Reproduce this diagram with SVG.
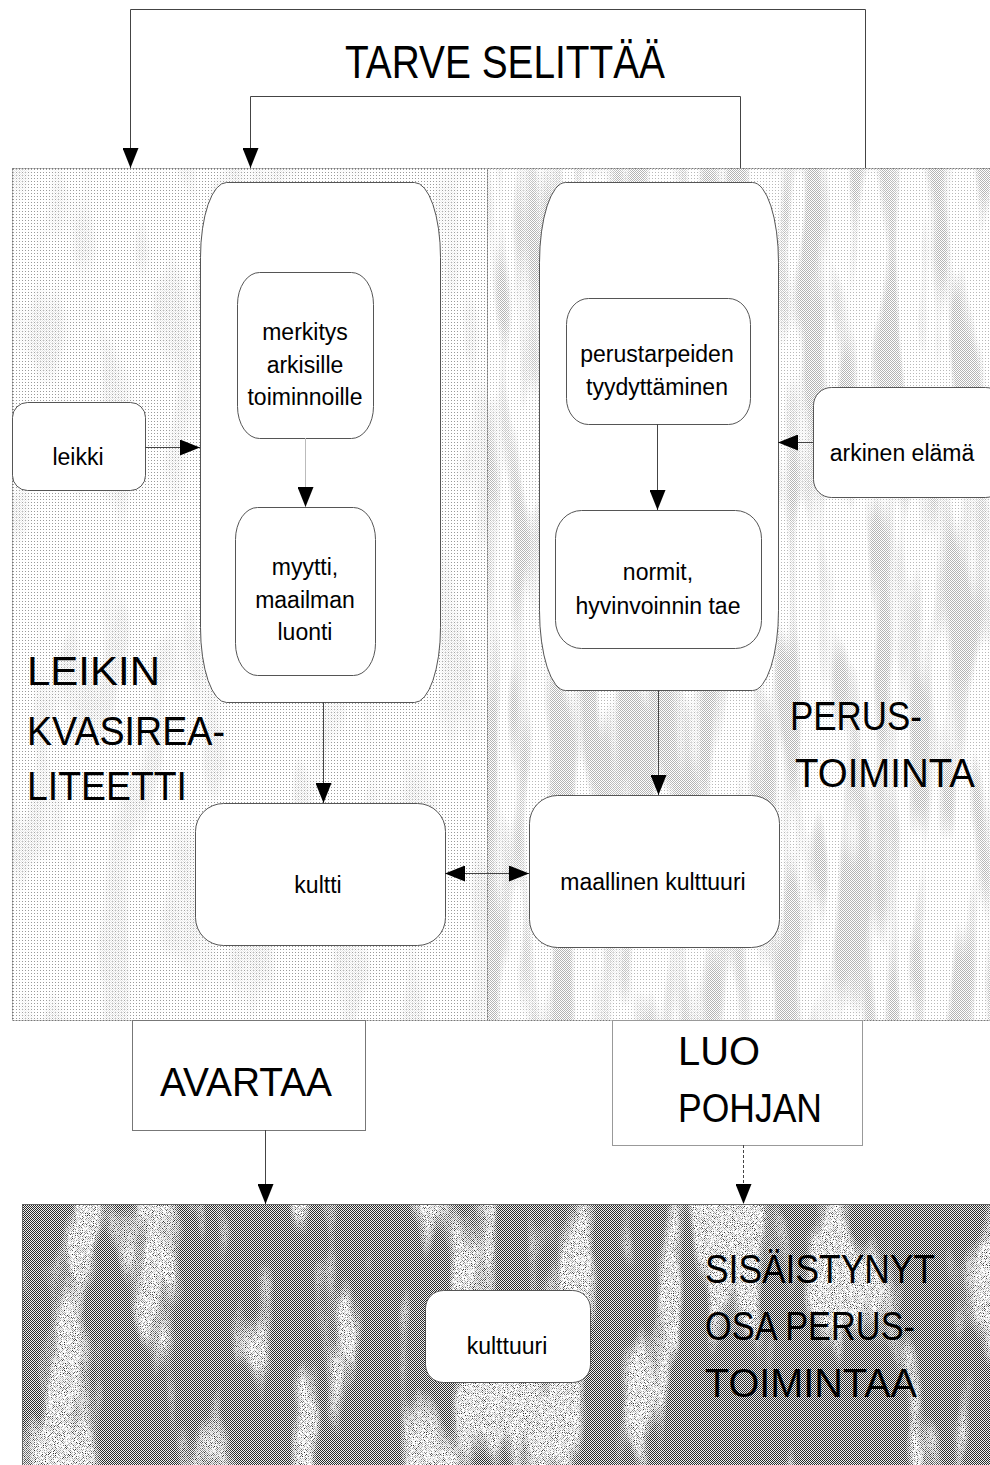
<svg xmlns="http://www.w3.org/2000/svg" width="990" height="1465" viewBox="0 0 990 1465">
  <style>
    .box { fill: #fff; stroke: #555; stroke-width: 1; }
    .t { font-family: "Liberation Sans", Arial, sans-serif; font-size: 23px; fill: #000; text-anchor: middle; }
    .big { font-family: "Liberation Sans", Arial, sans-serif; font-size: 40px; fill: #000; }
    .edge { fill: none; stroke: #444; stroke-width: 1; }
    .faint { stroke: #bbb; }
    .dash { stroke-dasharray: 3 2; }
    .frame { fill: none; stroke: #777; stroke-width: 1; stroke-dasharray: 2 1; }
  </style>
  <defs>
    <marker id="ah" viewBox="0 0 20 16" refX="20" refY="8" markerWidth="20" markerHeight="16" markerUnits="userSpaceOnUse" orient="auto-start-reverse">
      <path d="M0,0 L20,8 L0,16 Z" fill="#000"/>
    </marker>
    <!-- light stipple -->
    <pattern id="stipple" width="3" height="3" patternUnits="userSpaceOnUse">
      <rect width="3" height="3" fill="#fff"/>
      <rect x="1" y="1" width="1" height="1" fill="#9a9a9a"/>
    </pattern>
    <!-- checker dither, light -->
    <pattern id="ditherL" width="2" height="2" patternUnits="userSpaceOnUse">
      <rect width="2" height="2" fill="#fff"/>
      <rect width="1" height="1" fill="#b4b4b4"/>
      <rect x="1" y="1" width="1" height="1" fill="#b4b4b4"/>
    </pattern>
    <!-- checker dither, dark -->
    <pattern id="ditherD" width="2" height="2" patternUnits="userSpaceOnUse">
      <rect width="2" height="2" fill="#f0f0f0"/>
      <rect width="1" height="1" fill="#2a2a2a"/>
      <rect x="1" y="1" width="1" height="1" fill="#2a2a2a"/>
    </pattern>
    <!-- vertical streak masks applied to a patterned fill -->
    <filter id="streakR" x="0" y="0" width="1" height="1" color-interpolation-filters="sRGB">
      <feTurbulence type="fractalNoise" baseFrequency="0.04 0.006" numOctaves="2" seed="4" result="n"/>
      <feColorMatrix in="n" type="matrix" values="0 0 0 0 0  0 0 0 0 0  0 0 0 0 0  6 0 0 0 -2.7" result="m"/>
      <feComposite in="SourceGraphic" in2="m" operator="in"/>
    </filter>
    <filter id="streakL" x="0" y="0" width="1" height="1" color-interpolation-filters="sRGB">
      <feTurbulence type="fractalNoise" baseFrequency="0.03 0.008" numOctaves="2" seed="9" result="n"/>
      <feColorMatrix in="n" type="matrix" values="0 0 0 0 0  0 0 0 0 0  0 0 0 0 0  6 0 0 0 -3.2" result="m"/>
      <feComposite in="SourceGraphic" in2="m" operator="in"/>
    </filter>
    <!-- speckled light blotches for the lower band -->
    <filter id="blotch" x="0" y="0" width="1" height="1" color-interpolation-filters="sRGB">
      <feTurbulence type="fractalNoise" baseFrequency="0.022 0.006" numOctaves="3" seed="11" result="n"/>
      <feColorMatrix in="n" type="matrix" values="0 0 0 0 1  0 0 0 0 1  0 0 0 0 1  7 0 0 0 -3.5" result="b"/>
      <feTurbulence type="fractalNoise" baseFrequency="0.9" numOctaves="1" seed="2" result="g"/>
      <feColorMatrix in="g" type="matrix" values="0 0 0 0 1  0 0 0 0 1  0 0 0 0 1  3 0 0 0 -0.8" result="gm"/>
      <feComposite in="b" in2="gm" operator="in"/>
    </filter>
  </defs>

  <rect width="990" height="1465" fill="#fff"/>

  <!-- play / quasi-reality panel -->
  <g id="panel-leikki">
    <rect x="12" y="168" width="475" height="852" fill="url(#stipple)"/>
    <rect x="12" y="168" width="475" height="852" fill="url(#ditherL)" filter="url(#streakL)" opacity="0.35"/>
    <rect x="12.5" y="168.5" width="475" height="852" class="frame"/>
    <text class="big" x="27" y="685" textLength="133" lengthAdjust="spacingAndGlyphs">LEIKIN</text>
    <text class="big" x="27" y="745" textLength="198" lengthAdjust="spacingAndGlyphs">KVASIREA-</text>
    <text class="big" x="27" y="800" textLength="160" lengthAdjust="spacingAndGlyphs">LITEETTI</text>
  </g>

  <!-- everyday activity panel -->
  <g id="panel-perustoiminta">
    <rect x="487" y="168" width="503" height="852" fill="url(#stipple)" opacity="0.7"/>
    <rect x="487" y="168" width="503" height="852" fill="url(#ditherL)" filter="url(#streakR)"/>
    <rect x="487.5" y="168.5" width="510" height="852" class="frame"/>
    <text class="big" x="790" y="730" textLength="132" lengthAdjust="spacingAndGlyphs">PERUS-</text>
    <text class="big" x="795" y="787" textLength="180" lengthAdjust="spacingAndGlyphs">TOIMINTA</text>
  </g>

  <!-- internalised culture band -->
  <g id="panel-kulttuuri">
    <rect x="22" y="1204" width="968" height="261" fill="url(#ditherD)"/>
    <rect x="22" y="1204" width="968" height="261" fill="#fff" filter="url(#blotch)"/>
    <rect x="22.5" y="1204.5" width="980" height="270" fill="none" stroke="#666" stroke-width="1"/>
    <text class="big" x="705" y="1283" textLength="230" lengthAdjust="spacingAndGlyphs">SISÄISTYNYT</text>
    <text class="big" x="705" y="1340" textLength="210" lengthAdjust="spacingAndGlyphs">OSA PERUS-</text>
    <text class="big" x="705" y="1397" textLength="212" lengthAdjust="spacingAndGlyphs">TOIMINTAA</text>
  </g>

  <!-- nodes -->
  <g id="node-leikin-ydin">
    <rect class="box" x="200.5" y="182.5" width="240" height="520" rx="26" ry="75"/>
  </g>
  <g id="node-merkitys">
    <rect class="box" x="237.5" y="272.5" width="136" height="166" rx="22" ry="32"/>
    <text class="t" x="305" y="340">merkitys</text>
    <text class="t" x="305" y="373">arkisille</text>
    <text class="t" x="305" y="405">toiminnoille</text>
  </g>
  <g id="node-myytti">
    <rect class="box" x="235.5" y="507.5" width="140" height="168" rx="22" ry="32"/>
    <text class="t" x="305" y="575">myytti,</text>
    <text class="t" x="305" y="608">maailman</text>
    <text class="t" x="305" y="640">luonti</text>
  </g>
  <g id="node-leikki">
    <rect class="box" x="12.5" y="402.5" width="133" height="88" rx="15" ry="15"/>
    <text class="t" x="78" y="465">leikki</text>
  </g>
  <g id="node-kultti">
    <rect class="box" x="195.5" y="803.5" width="250" height="142" rx="28" ry="28"/>
    <text class="t" x="318" y="893">kultti</text>
  </g>
  <g id="node-perus-ydin">
    <rect class="box" x="539.5" y="182.5" width="239" height="508" rx="26" ry="80"/>
  </g>
  <g id="node-perustarpeet">
    <rect class="box" x="566.5" y="298.5" width="184" height="126" rx="22" ry="26"/>
    <text class="t" x="657" y="362">perustarpeiden</text>
    <text class="t" x="657" y="395">tyydyttäminen</text>
  </g>
  <g id="node-normit">
    <rect class="box" x="555.5" y="510.5" width="206" height="138" rx="26" ry="28"/>
    <text class="t" x="658" y="580">normit,</text>
    <text class="t" x="658" y="614">hyvinvoinnin tae</text>
  </g>
  <g id="node-arkinen">
    <rect class="box" x="813.5" y="387.5" width="190" height="110" rx="18" ry="18"/>
    <text class="t" x="902" y="461">arkinen elämä</text>
  </g>
  <g id="node-maallinen">
    <rect class="box" x="529.5" y="795.5" width="250" height="152" rx="28" ry="28"/>
    <text class="t" x="653" y="890">maallinen kulttuuri</text>
  </g>
  <g id="node-avartaa">
    <rect x="132.5" y="1020.5" width="233" height="110" fill="#fff" stroke="#777" stroke-width="1"/>
    <text class="big" x="160" y="1096" font-size="42" textLength="172" lengthAdjust="spacingAndGlyphs">AVARTAA</text>
  </g>
  <g id="node-luo-pohjan">
    <rect x="612.5" y="1020.5" width="250" height="125" fill="#fff" stroke="#999" stroke-width="1"/>
    <text class="big" x="678" y="1065" textLength="82" lengthAdjust="spacingAndGlyphs">LUO</text>
    <text class="big" x="678" y="1122" textLength="144" lengthAdjust="spacingAndGlyphs">POHJAN</text>
  </g>
  <g id="node-kulttuuri">
    <rect class="box" x="425.5" y="1290.5" width="165" height="92" rx="18" ry="18"/>
    <text class="t" x="507" y="1354">kulttuuri</text>
  </g>

  <!-- connectors -->
  <g id="connectors">
    <path class="edge" d="M865.5,168 V9.5 H130.5 V168" marker-end="url(#ah)"/>
    <path class="edge" d="M740.5,168 V96.5 H250.5 V168" marker-end="url(#ah)"/>
    <text x="505" y="78" font-family="'Liberation Sans', Arial, sans-serif" font-size="46" text-anchor="middle" textLength="320" lengthAdjust="spacingAndGlyphs">TARVE SELITTÄÄ</text>
    <path class="edge" d="M145,447.5 H200" marker-end="url(#ah)"/>
    <path class="edge faint" d="M305.5,438 V507" marker-end="url(#ah)"/>
    <path class="edge" d="M657.5,424 V510" marker-end="url(#ah)"/>
    <path class="edge" d="M813,442.5 H778" marker-end="url(#ah)"/>
    <path class="edge" d="M323.5,702 V803" marker-end="url(#ah)"/>
    <path class="edge" d="M658.5,690 V795" marker-end="url(#ah)"/>
    <path class="edge" d="M445,873.5 H529" marker-start="url(#ah)" marker-end="url(#ah)"/>
    <path class="edge" d="M265.5,1130 V1204" marker-end="url(#ah)"/>
    <path class="edge dash" d="M743.5,1145 V1204" marker-end="url(#ah)"/>
  </g>
</svg>
